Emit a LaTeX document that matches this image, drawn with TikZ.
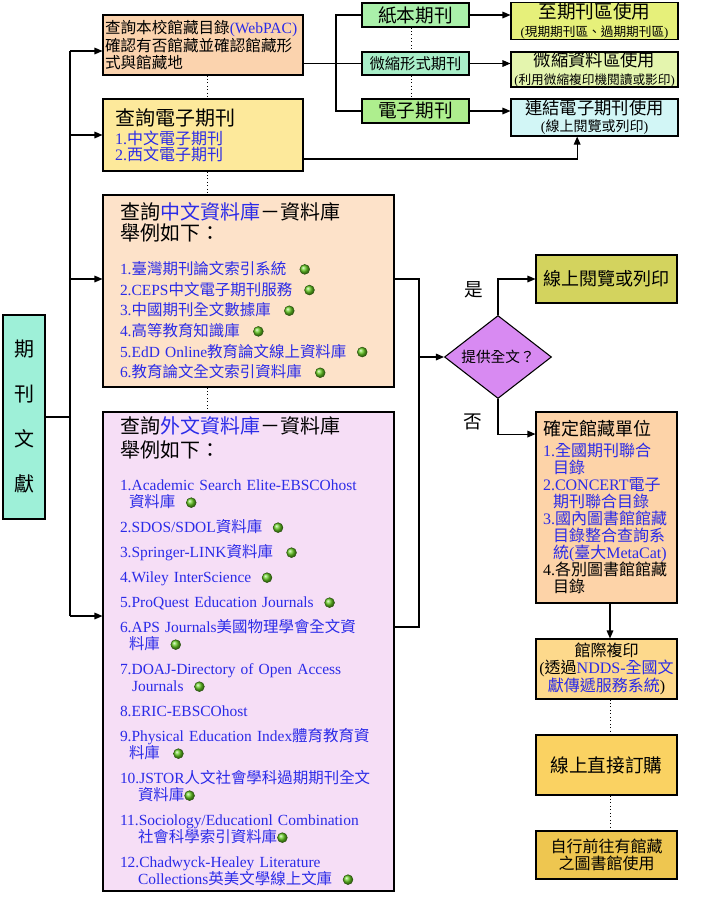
\documentclass[tikz,border=0pt]{standalone}
\usepackage{fontspec}
\setmainfont{Liberation Serif}
\newfontfamily\cjkfont{Noto Sans CJK TC}
\usetikzlibrary{positioning,shapes,arrows.meta}

% CJK runs switch to the CJK font by themselves
\XeTeXinterchartokenstate=1
\newXeTeXintercharclass\cjkclass
\newcommand\setcjkrange[2]{%
  \count255=#1
  \loop\XeTeXcharclass\count255=\cjkclass
    \ifnum\count255<#2 \advance\count255 by 1 \repeat}
\setcjkrange{"3000}{"303F}
\setcjkrange{"4E00}{"9FFF}
\setcjkrange{"FF00}{"FFEF}
\XeTeXinterchartoks 0 \cjkclass = {\cjkfont}
\XeTeXinterchartoks 4095 \cjkclass = {\cjkfont}
\XeTeXinterchartoks \cjkclass 0 = {\rmfamily}
\XeTeXinterchartoks \cjkclass 4095 = {\rmfamily}

\definecolor{lnk}{HTML}{2B2BE8}
\definecolor{litc}{HTML}{9EF0D8}
\definecolor{opacc}{HTML}{FBD3AE}
\definecolor{ejc}{HTML}{FDE99B}
\definecolor{cdbc}{HTML}{FDE2C9}
\definecolor{fdbc}{HTML}{F6DEF6}
\definecolor{paperc}{HTML}{AAF0AA}
\definecolor{microc}{HTML}{A8EEC8}
\definecolor{elecc}{HTML}{AEEE8E}
\definecolor{use1c}{HTML}{E6F07A}
\definecolor{use2c}{HTML}{E4F5AE}
\definecolor{use3c}{HTML}{D2F6F6}
\definecolor{onlinec}{HTML}{D3D35E}
\definecolor{diac}{HTML}{D88AF2}
\definecolor{locc}{HTML}{FDD3A8}
\definecolor{illc}{HTML}{FDD98C}
\definecolor{buyc}{HTML}{FAD262}
\definecolor{visitc}{HTML}{EEC650}
\definecolor{dotc}{HTML}{66CC22}

\newcommand\gdot{\tikz[baseline=-3.8pt]{\shade[ball color=dotc] (0,0) circle (3.7pt);
  \draw[line width=.35pt,dotc!40!black] (0,0) circle (3.7pt);}}

\begin{document}
\begin{tikzpicture}[x=0.75pt,y=-0.75pt,
  box/.style={draw,line width=0.8pt,inner sep=0pt,align=center},
  arr/.style={line width=0.8pt,-{Triangle[length=6pt,width=5pt]}},
  ln/.style={line width=0.8pt},
  dots/.style={line width=0.6pt,dotted}]
\useasboundingbox (0,0) rectangle (708,900);

% left column
\node[box,fill=litc,minimum width=31.5pt,minimum height=153pt,font=\fontsize{15}{33.75}\selectfont] (lit) at (24,417) {期\\刊\\文\\獻};
\node[box,fill=opacc,minimum width=150pt,minimum height=45pt,text width=147pt,inner xsep=1.5pt,align=left,font=\fontsize{11.7}{12.4}\selectfont] (opac) at (203,45)
  {查詢本校館藏目錄\textcolor{lnk}{(WebPAC)}\\確認有否館藏並確認館藏形\\式與館藏地};
\node[box,fill=ejc,minimum width=150pt,minimum height=54pt,text width=132pt,inner xsep=9pt,align=left,font=\fontsize{12}{12}\selectfont] (ej) at (203,135)
  {{\fontsize{15}{15}\selectfont 查詢電子期刊}\\[2pt]\textcolor{lnk}{1.中文電子期刊}\\\textcolor{lnk}{2.西文電子期刊}};
\node[box,fill=cdbc,minimum width=218.25pt,minimum height=144pt,text width=192.75pt,inner xsep=12.75pt,align=left,font=\fontsize{11.6}{15.5}\selectfont] (cdb) at (248.5,291)
  {{\fontsize{15}{15}\selectfont 查詢\textcolor{lnk}{中文資料庫}－資料庫}\\{\fontsize{15}{15}\selectfont 舉例如下：}\\[10pt]
   \textcolor{lnk}{1.臺灣期刊論文索引系統}\hspace{10pt}\gdot\\
   \textcolor{lnk}{2.CEPS中文電子期刊服務}\hspace{9pt}\gdot\\
   \textcolor{lnk}{3.中國期刊全文數據庫}\hspace{10pt}\gdot\\
   \textcolor{lnk}{4.高等教育知識庫}\hspace{10pt}\gdot\\
   \textcolor{lnk}{5.EdD Online教育論文線上資料庫}\hspace{8pt}\gdot\\
   \textcolor{lnk}{6.教育論文全文索引資料庫}\hspace{10pt}\gdot};
\node[box,fill=fdbc,minimum width=218.25pt,minimum height=359.25pt,text width=192.75pt,inner xsep=12.75pt,align=left,font=\fontsize{11.6}{12.75}\selectfont] (fdb) at (248.5,651.5)
  {{\fontsize{15}{15}\selectfont 查詢\textcolor{lnk}{外文資料庫}－資料庫}\\[3pt]{\fontsize{15}{15}\selectfont 舉例如下：}\\[12pt]
   \textcolor{lnk}{1.Academic Search Elite-EBSCOhost}\\\hspace*{6.75pt}\textcolor{lnk}{資料庫}\hspace{8pt}\gdot\\[6pt]
   \textcolor{lnk}{2.SDOS/SDOL資料庫}\hspace{8pt}\gdot\\[6pt]
   \textcolor{lnk}{3.Springer-LINK資料庫}\hspace{10pt}\gdot\\[6pt]
   \textcolor{lnk}{4.Wiley InterScience}\hspace{8pt}\gdot\\[6pt]
   \textcolor{lnk}{5.ProQuest Education Journals}\hspace{8pt}\gdot\\[6pt]
   \textcolor{lnk}{6.APS Journals美國物理學會全文資}\\\hspace*{6.75pt}\textcolor{lnk}{料庫}\hspace{8pt}\gdot\\[6pt]
   \textcolor{lnk}{7.DOAJ-Directory of Open Access}\\\hspace*{9pt}\textcolor{lnk}{Journals}\hspace{8pt}\gdot\\[6pt]
   \textcolor{lnk}{8.ERIC-EBSCOhost}\\[6pt]
   \textcolor{lnk}{9.Physical Education Index體育教育資}\\\hspace*{6.75pt}\textcolor{lnk}{料庫}\hspace{10pt}\gdot\\[6pt]
   \textcolor{lnk}{10.JSTOR人文社會學科過期期刊全文}\\\hspace*{13.5pt}\textcolor{lnk}{資料庫}\gdot\\[6pt]
   \textcolor{lnk}{11.Sociology/Educationl Combination}\\\hspace*{13.5pt}\textcolor{lnk}{社會科學索引資料庫}\gdot\\[6pt]
   \textcolor{lnk}{12.Chadwyck-Healey Literature}\\\hspace*{13.5pt}\textcolor{lnk}{Collections英美文學線上文庫}\hspace{8pt}\gdot};

% top right
\node[box,fill=paperc,minimum width=80.25pt,minimum height=18pt,font=\fontsize{14}{14}\selectfont] (paper) at (415.5,15) {紙本期刊};
\node[box,fill=microc,minimum width=80.25pt,minimum height=17.25pt,font=\fontsize{11.5}{11.5}\selectfont] (micro) at (415.5,63.5) {微縮形式期刊};
\node[box,fill=elecc,minimum width=80.25pt,minimum height=18pt,font=\fontsize{14}{14}\selectfont] (elec) at (415.5,111) {電子期刊};
\node[box,fill=use1c,minimum width=125.25pt,minimum height=27pt,font=\fontsize{14}{13.5}\selectfont] (use1) at (594.5,21)
  {至期刊區使用\\{\fontsize{9.5}{9.5}\selectfont (現期期刊區、過期期刊區)}};
\node[box,fill=use2c,minimum width=125.25pt,minimum height=26.25pt,font=\fontsize{13}{13}\selectfont] (use2) at (594.5,69.5)
  {微縮資料區使用\\{\fontsize{9.5}{9.5}\selectfont (利用微縮複印機閱讀或影印)}};
\node[box,fill=use3c,minimum width=125.25pt,minimum height=27.75pt,font=\fontsize{13}{13}\selectfont] (use3) at (594.5,117.5)
  {連結電子期刊使用\\{\fontsize{10.5}{10.5}\selectfont (線上閱覽或列印)}};

% decision and right column
\node[diamond,draw,line width=0.8pt,fill=diac,inner sep=0pt,aspect=1.3,minimum width=80.25pt,minimum height=62.25pt,font=\fontsize{11}{11}\selectfont] (dia) at (498,357) {提供全文？};
\node[font=\fontsize{14}{14}\selectfont] (yes) at (474,290) {是};
\node[font=\fontsize{14}{14}\selectfont] (no) at (473,422) {否};
\node[box,fill=onlinec,minimum width=105.75pt,minimum height=36pt,font=\fontsize{13.5}{13.5}\selectfont] (online) at (606.5,279) {線上閱覽或列印};
\node[box,fill=locc,minimum width=105.75pt,minimum height=143.25pt,text width=95.25pt,inner xsep=5.25pt,align=left,font=\fontsize{12}{12.75}\selectfont] (locate) at (606.5,507.5)
  {{\fontsize{13.5}{13.5}\selectfont 確定館藏單位}\\[3pt]
   \textcolor{lnk}{1.全國期刊聯合}\\\hspace*{7.5pt}\textcolor{lnk}{目錄}\\
   \textcolor{lnk}{2.CONCERT電子}\\\hspace*{7.5pt}\textcolor{lnk}{期刊聯合目錄}\\
   \textcolor{lnk}{3.國內圖書館館藏}\\\hspace*{7.5pt}\textcolor{lnk}{目錄整合查詢系}\\\hspace*{7.5pt}\textcolor{lnk}{統(臺大MetaCat)}\\
   4.各別圖書館館藏\\\hspace*{7.5pt}目錄};
\node[box,fill=illc,minimum width=105.75pt,minimum height=45pt,font=\fontsize{12}{12.5}\selectfont] (ill) at (606.5,669)
  {館際複印\\(透過\textcolor{lnk}{NDDS-全國文}\\\textcolor{lnk}{獻傳遞服務系統})};
\node[box,fill=buyc,minimum width=105.75pt,minimum height=45pt,font=\fontsize{14}{14}\selectfont] (buy) at (606.5,765) {線上直接訂購};
\node[box,fill=visitc,minimum width=105.75pt,minimum height=36pt,font=\fontsize{12}{12.5}\selectfont] (visit) at (606.5,855) {自行前往有館藏\\之圖書館使用};

% connectors
\coordinate (trunk) at (70,0);
\coordinate (inA) at (70,51);
\coordinate (inB) at (70,135);
\coordinate (inC) at (70,279);
\coordinate (inD) at (70,616);
\draw[ln] (lit.east) -- (lit.east -| trunk);
\draw[ln] (inA) -- (inD);
\draw[arr] (inA) -- (inA -| opac.west);
\draw[arr] (inB) -- (ej.west);
\draw[arr] (inC) -- (inC -| cdb.west);
\draw[arr] (inD) -- (inD -| fdb.west);

\coordinate (col) at (207,0);
\draw[dots] (opac.south -| col) -- (ej.north -| col);
\draw[dots] (ej.south -| col) -- (cdb.north -| col);
\draw[dots] (cdb.south -| col) -- (fdb.north -| col);

\coordinate (fork) at (336,0);
\coordinate (mcol) at (411,0);
\draw[ln] (micro.west -| opac.east) -- (micro.west);
\draw[ln] (paper.west) -- (paper.west -| fork) -- (elec.west -| fork) -- (elec.west);
\draw[dots] (paper.south -| mcol) -- (micro.north -| mcol);
\draw[dots] (micro.south -| mcol) -- (elec.north -| mcol);
\draw[arr] (paper.east) -- (paper.east -| use1.west);
\draw[arr] (micro.east) -- (micro.east -| use2.west);
\draw[arr] (elec.east) -- (elec.east -| use3.west);
\draw[arr] ([yshift=-18pt]ej.east) -| ([xshift=-13pt]use3.south);

\coordinate (bus) at (419,0);
\coordinate (outC) at ([yshift=9pt]cdb.east);
\coordinate (outD) at ([yshift=18.4pt]fdb.east);
\draw[ln] (outC) -| (bus |- outD) -- (outD);
\draw[arr] (bus |- dia.west) -- (dia.west);
\draw[arr] (dia.north) |- (online.west);
\draw[arr] (dia.south) |- ([yshift=55.1pt]locate.west);

\coordinate (rcol) at (610,0);
\draw[arr] (locate.south -| rcol) -- (ill.north -| rcol);
\draw[dots] (ill.south -| rcol) -- (buy.north -| rcol);
\draw[dots] (buy.south -| rcol) -- (visit.north -| rcol);
\end{tikzpicture}
\end{document}
